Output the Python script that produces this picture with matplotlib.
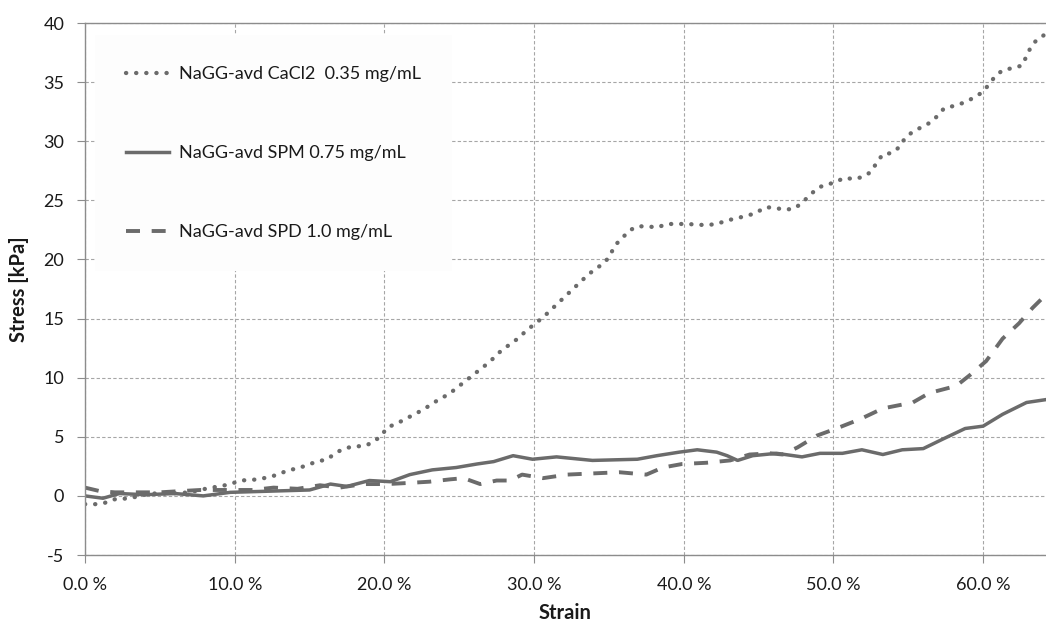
import matplotlib
matplotlib.use("Agg")
import matplotlib.pyplot as plt

plt.rcParams['font.family'] = ['Lato', 'DejaVu Sans']
plt.rcParams['axes.unicode_minus'] = False

# CaCl2 0.35 mg/mL (dotted)
cacl2_strain = [0.000, 0.007, 0.013, 0.019, 0.030, 0.043, 0.057, 0.070, 0.077, 0.084, 0.090,
                0.097, 0.104, 0.116, 0.123, 0.129, 0.136, 0.142, 0.148, 0.155, 0.162, 0.167,
                0.173, 0.180, 0.186, 0.192, 0.198, 0.202, 0.208, 0.214, 0.220, 0.226, 0.232,
                0.237, 0.243, 0.248, 0.253, 0.260, 0.270, 0.279, 0.285, 0.290, 0.295, 0.301,
                0.306, 0.311, 0.316, 0.321, 0.326, 0.331, 0.336, 0.341, 0.347, 0.351, 0.354,
                0.359, 0.363, 0.369, 0.376, 0.382, 0.389, 0.402, 0.415, 0.422, 0.429, 0.436,
                0.442, 0.448, 0.454, 0.460, 0.467, 0.474, 0.479, 0.484, 0.489, 0.494, 0.501,
                0.507, 0.514, 0.520, 0.525, 0.529, 0.533, 0.539, 0.544, 0.548, 0.553, 0.559,
                0.565, 0.570, 0.574, 0.581, 0.588, 0.594, 0.599, 0.604, 0.608, 0.613, 0.620,
                0.626, 0.629, 0.632, 0.636, 0.641, 0.645]
cacl2_stress = [-0.7, -0.7, -0.6, -0.3, -0.2, 0.2, 0.2, 0.3, 0.5, 0.7, 0.8,
                1.0, 1.3, 1.4, 1.6, 1.8, 2.2, 2.3, 2.6, 2.9, 3.1, 3.6,
                4.0, 4.2, 4.2, 4.5, 5.1, 5.8, 6.1, 6.5, 6.9, 7.3, 7.8,
                8.2, 8.6, 9.1, 9.6, 10.3, 11.3, 12.4, 12.9, 13.4, 14.0, 14.6,
                15.1, 15.7, 16.3, 16.9, 17.5, 18.1, 18.7, 19.2, 19.7, 20.4, 21.2,
                21.8, 22.4, 22.8, 22.8, 22.7, 23.0, 23.0, 22.9, 23.0, 23.3, 23.5,
                23.7, 23.9, 24.4, 24.4, 24.2, 24.3, 24.8, 25.4, 26.0, 26.3, 26.5,
                26.9, 26.8, 27.0, 27.4, 28.2, 28.9, 29.0, 29.5, 30.3, 30.8, 31.2,
                31.6, 32.2, 32.8, 33.0, 33.3, 33.7, 34.1, 34.8, 35.5, 36.0, 36.2,
                36.4, 37.2, 38.0, 38.6, 39.0, 39.3]

# SPM 0.75 mg/mL (solid)
spm_strain = [0.000, 0.012, 0.023, 0.040, 0.060, 0.079, 0.097, 0.150, 0.164, 0.175, 0.190,
              0.204, 0.217, 0.232, 0.248, 0.262, 0.273, 0.286, 0.299, 0.315, 0.339, 0.369,
              0.382, 0.397, 0.409, 0.422, 0.429, 0.436, 0.446, 0.462, 0.479, 0.491, 0.506,
              0.519, 0.533, 0.546, 0.560, 0.573, 0.588, 0.600, 0.613, 0.629, 0.645]
spm_stress = [0.0, -0.2, 0.2, 0.1, 0.2, 0.0, 0.3, 0.5, 1.0, 0.8, 1.3,
              1.2, 1.8, 2.2, 2.4, 2.7, 2.9, 3.4, 3.1, 3.3, 3.0, 3.1,
              3.4, 3.7, 3.9, 3.7, 3.4, 3.0, 3.4, 3.6, 3.3, 3.6, 3.6,
              3.9, 3.5, 3.9, 4.0, 4.8, 5.7, 5.9, 6.9, 7.9, 8.2]

# SPD 1.0 mg/mL (dashed)
spd_strain = [0.000, 0.010, 0.020, 0.030, 0.050, 0.063, 0.077, 0.100, 0.112, 0.126, 0.142,
              0.157, 0.170, 0.186, 0.202, 0.217, 0.230, 0.244, 0.253, 0.264, 0.275, 0.284,
              0.292, 0.306, 0.322, 0.339, 0.357, 0.375, 0.386, 0.399, 0.415, 0.431, 0.444,
              0.458, 0.466, 0.476, 0.489, 0.502, 0.518, 0.533, 0.553, 0.564, 0.582, 0.591,
              0.602, 0.613, 0.624, 0.633, 0.645]
spd_stress = [0.7, 0.4, 0.3, 0.3, 0.3, 0.4, 0.5, 0.5, 0.5, 0.7, 0.6,
              0.9, 0.7, 1.0, 1.0, 1.1, 1.2, 1.4, 1.5, 1.0, 1.3, 1.3,
              1.8, 1.5, 1.8, 1.9, 2.0, 1.8, 2.4, 2.7, 2.8, 3.0, 3.5,
              3.6, 3.5, 4.1, 5.1, 5.7, 6.5, 7.4, 7.9, 8.7, 9.3, 10.2,
              11.4, 13.3, 14.6, 15.9, 17.4]

labels = ["NaGG-avd CaCl2  0.35 mg/mL", "NaGG-avd SPM 0.75 mg/mL", "NaGG-avd SPD 1.0 mg/mL"]
x_ticks = [0.0, 0.1, 0.2, 0.3, 0.4, 0.5, 0.6]
x_ticklabels = ["0.0 %", "10.0 %", "20.0 %", "30.0 %", "40.0 %", "50.0 %", "60.0 %"]
y_ticks = [-5, 0, 5, 10, 15, 20, 25, 30, 35, 40]

line_color = "#6b6b6b"
grid_color = "#a6a6a6"

fig = plt.figure(figsize=(10.46, 6.23), dpi=100)
ax = fig.add_axes([85 / 1046, 68 / 623, 961 / 1046, 532 / 623])

ax.plot(cacl2_strain, cacl2_stress, color=line_color, lw=3.1,
        linestyle=(0, (0.05, 2.3)), dash_capstyle='round', label=labels[0])
ax.plot(spm_strain, spm_stress, color=line_color, lw=2.5, solid_joinstyle='round',
        label=labels[1])
ax.plot(spd_strain, spd_stress, color=line_color, lw=2.8,
        linestyle=(0, (3.6, 3.0)), dash_capstyle='butt', label=labels[2])

ax.set_xlim(0, 0.642)
ax.set_ylim(-5, 40)
ax.set_xticks(x_ticks)
ax.set_xticklabels(x_ticklabels)
ax.set_yticks(y_ticks)

ax.grid(True, color=grid_color, linestyle=(0, (3, 2)), linewidth=0.8)
ax.set_axisbelow(True)

for side in ["left", "bottom", "top"]:
    ax.spines[side].set_color("#8c8c8c")
    ax.spines[side].set_linewidth(1.0)
ax.spines["right"].set_visible(False)

ax.tick_params(axis='both', direction='out', length=6, width=0.8, color="#8c8c8c",
               labelsize=13, labelcolor="#1a1a1a")
ax.tick_params(axis='x', pad=10)
ax.tick_params(axis='y', pad=9)

ax.set_xlabel("Strain", fontsize=14.5, fontweight='bold', color="#1a1a1a", labelpad=7)
ax.set_ylabel("Stress [kPa]", fontsize=14.5, fontweight='bold', color="#1a1a1a", labelpad=10)

leg = ax.legend(loc='upper left', bbox_to_anchor=(0.0104, 0.977), fontsize=13,
                labelspacing=3.5, handlelength=2.4, handletextpad=0.55,
                borderpad=1.7, borderaxespad=0, frameon=True, fancybox=False)
leg.get_frame().set_facecolor("#fdfdfd")
leg.get_frame().set_edgecolor("none")
leg.get_frame().set_alpha(1.0)
for t in leg.get_texts():
    t.set_color("#1a1a1a")

plt.savefig("out.png", dpi=100)
